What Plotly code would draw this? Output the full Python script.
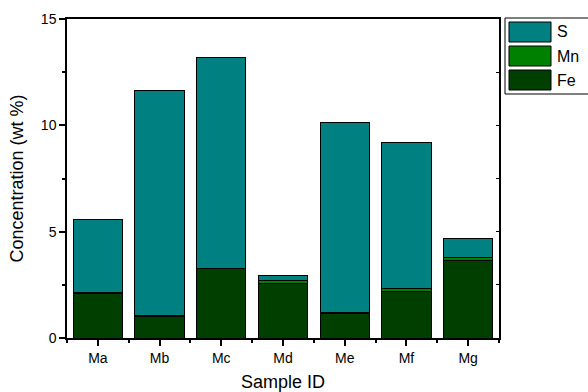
import plotly.graph_objects as go

samples = ["Ma", "Mb", "Mc", "Md", "Me", "Mf", "Mg"]
fe = [2.10, 1.00, 3.25, 2.56, 1.13, 2.17, 3.64]
mn = [0.06, 0.04, 0.04, 0.14, 0.08, 0.14, 0.14]
s = [3.40, 10.62, 9.90, 0.24, 8.90, 6.89, 0.89]

series = [("Fe", fe, "#003f00"), ("Mn", mn, "#008000"), ("S", s, "#008080")]
xpos = list(range(len(samples)))

fig = go.Figure()
for name, vals, col in series:
    fig.add_trace(go.Bar(x=xpos, y=vals, name=name, width=0.8,
                         marker=dict(color=col, line=dict(color="black", width=1)),
                         showlegend=False))

font_family = "Liberation Sans, Arial, sans-serif"
fig.update_layout(
    width=588, height=392, barmode="stack",
    margin=dict(l=67, r=89, t=19, b=54),
    paper_bgcolor="white", plot_bgcolor="white",
    font=dict(family=font_family, size=14, color="black"),
    xaxis=dict(range=[-0.5, 6.5], tickvals=xpos, ticktext=samples, automargin=False,
               showline=True, linecolor="black", linewidth=1.5, mirror=True,
               ticks="outside", ticklen=6, tickwidth=1.5, tickcolor="black",
               minor=dict(tick0=0.5, dtick=1, ticks="outside", ticklen=3, tickcolor="black"),
               showgrid=False, zeroline=False,
               title=dict(text="Sample ID", font=dict(size=18), standoff=11),
               tickfont=dict(size=14)),
    yaxis=dict(range=[0, 15], dtick=5, showline=True, linecolor="black", linewidth=1.5,
               mirror=True, ticks="outside", ticklen=6, tickwidth=1.5, tickcolor="black",
               automargin=False,
               minor=dict(dtick=2.5, ticks="outside", ticklen=3, tickcolor="black"),
               showgrid=False, zeroline=False,
               title=dict(text="Concentration (wt %)", font=dict(size=18), standoff=13),
               tickfont=dict(size=14)),
    yaxis2=dict(range=[0, 15], dtick=2.5, overlaying="y", side="right", automargin=False,
                ticks="inside", ticklen=3, tickcolor="black", showticklabels=False,
                showgrid=False, zeroline=False, showline=False),
)
# invisible trace to activate right-side tick axis
fig.add_trace(go.Scatter(x=[xpos[0]], y=[0], yaxis="y2", mode="markers",
                         marker=dict(opacity=0), showlegend=False, hoverinfo="skip"))

# legend drawn in paper coordinates (top row = last stacked series)
pw = 588 - 67 - 89
ph = 392 - 19 - 54
def px_x(px):
    return (px - 67) / pw
def px_y(py):
    return (392 - 54 - py) / ph

leg_items = list(reversed(series))
fig.add_shape(type="rect", xref="paper", yref="paper",
              x0=px_x(505), x1=px_x(600), y0=px_y(94), y1=px_y(18),
              line=dict(color="black", width=1), fillcolor="white", layer="above")
for i, (name, vals, col) in enumerate(leg_items):
    top = 22 + i * 24
    fig.add_shape(type="rect", xref="paper", yref="paper",
                  x0=px_x(509), x1=px_x(551), y0=px_y(top + 20), y1=px_y(top),
                  line=dict(color="black", width=1), fillcolor=col, layer="above")
    fig.add_annotation(xref="paper", yref="paper", x=px_x(555), y=px_y(top + 10),
                       text=name, showarrow=False, xanchor="left", yanchor="middle",
                       font=dict(size=16, color="black"))

fig.write_html("out.html")
